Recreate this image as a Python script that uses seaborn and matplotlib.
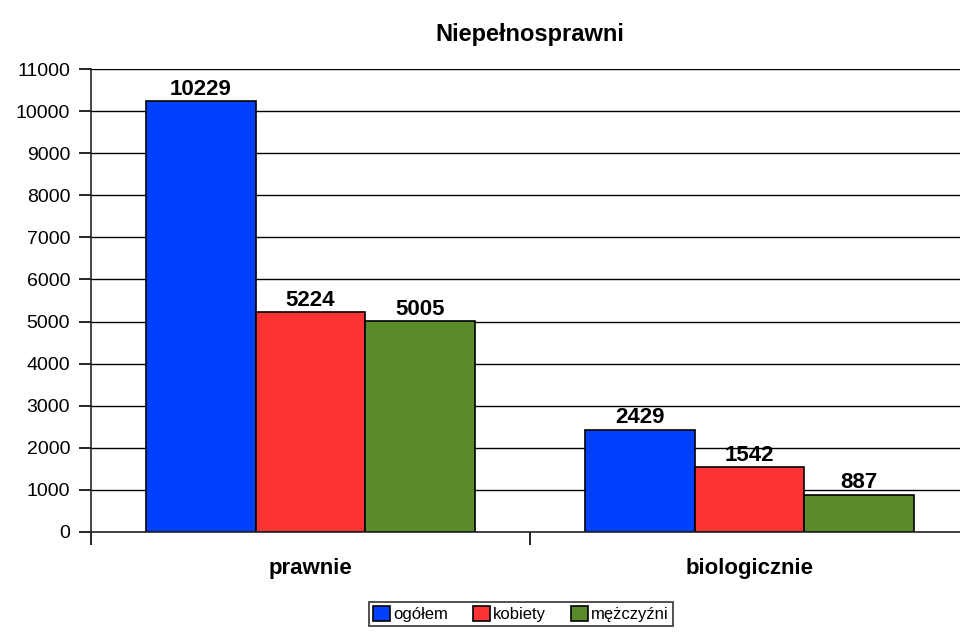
import pandas as pd
import matplotlib.pyplot as plt
import seaborn as sns

kategorie = ["prawnie", "biologicznie"]
serie = ["ogółem", "kobiety", "mężczyźni"]
ogolem = [10229, 2429]
kobiety = [5224, 1542]
mezczyzni = [5005, 887]
kolory = ["#0040FF", "#FF3333", "#5B8A2A"]

df = pd.DataFrame({
    "kategoria": kategorie * 3,
    "seria": [s for s in serie for _ in kategorie],
    "wartosc": ogolem + kobiety + mezczyzni,
})

sns.set_style("white", {"xtick.bottom": True, "ytick.left": True})
plt.rcParams["font.family"] = ["Liberation Sans", "DejaVu Sans"]
plt.rcParams.update({"text.color": "black", "axes.labelcolor": "black",
                     "xtick.color": "black", "ytick.color": "black"})

fig = plt.figure(figsize=(9.6, 6.33), dpi=100)
ax = fig.add_axes([91 / 960, 1 - 532 / 633, 878 / 960, 463 / 633])

sns.barplot(data=df, x="kategoria", y="wartosc", hue="seria", order=kategorie,
            hue_order=serie, palette=kolory, width=0.75, gap=0, saturation=1,
            edgecolor="black", linewidth=1.2, ax=ax)

ax.set_xlim(-0.5, 1.5)
ax.set_ylim(0, 11000)
ax.set_yticks(range(0, 11001, 1000))
ax.yaxis.grid(True, color="black", linewidth=1)
ax.set_axisbelow(True)
for s in ["top", "right"]:
    ax.spines[s].set_visible(False)
ax.spines["left"].set_linewidth(1.2)
ax.spines["bottom"].set_linewidth(1.2)

ax.set_xticks([0, 1])
ax.set_xticklabels(kategorie, fontsize=16, fontweight="bold")
ax.set_xticks([-0.5, 0.5, 1.5], minor=True)
ax.tick_params(axis="x", which="major", length=0, pad=19)
ax.tick_params(axis="x", which="minor", length=9, width=1.2, direction="out", bottom=True)
ax.tick_params(axis="y", length=9, width=1.2, direction="out", labelsize=14, left=True, pad=6)
ax.set_xlabel("")
ax.set_ylabel("")

for c in ax.containers:
    ax.bar_label(c, fontsize=16, fontweight="bold", padding=1)

ax.set_title("Niepełnosprawni", fontsize=17, fontweight="bold", pad=20)

handles, labels = ax.get_legend_handles_labels()
leg = ax.legend(handles, labels, loc="center", bbox_to_anchor=(521 / 960, 1 - 614 / 633),
                bbox_transform=fig.transFigure, ncol=3, frameon=True, fontsize=12,
                handlelength=1.0, handleheight=1.0, handletextpad=0.2, columnspacing=1.5,
                borderpad=0.25, fancybox=False, edgecolor="black")
leg.get_frame().set_linewidth(1.2)

fig.savefig("out.png", dpi=100)
